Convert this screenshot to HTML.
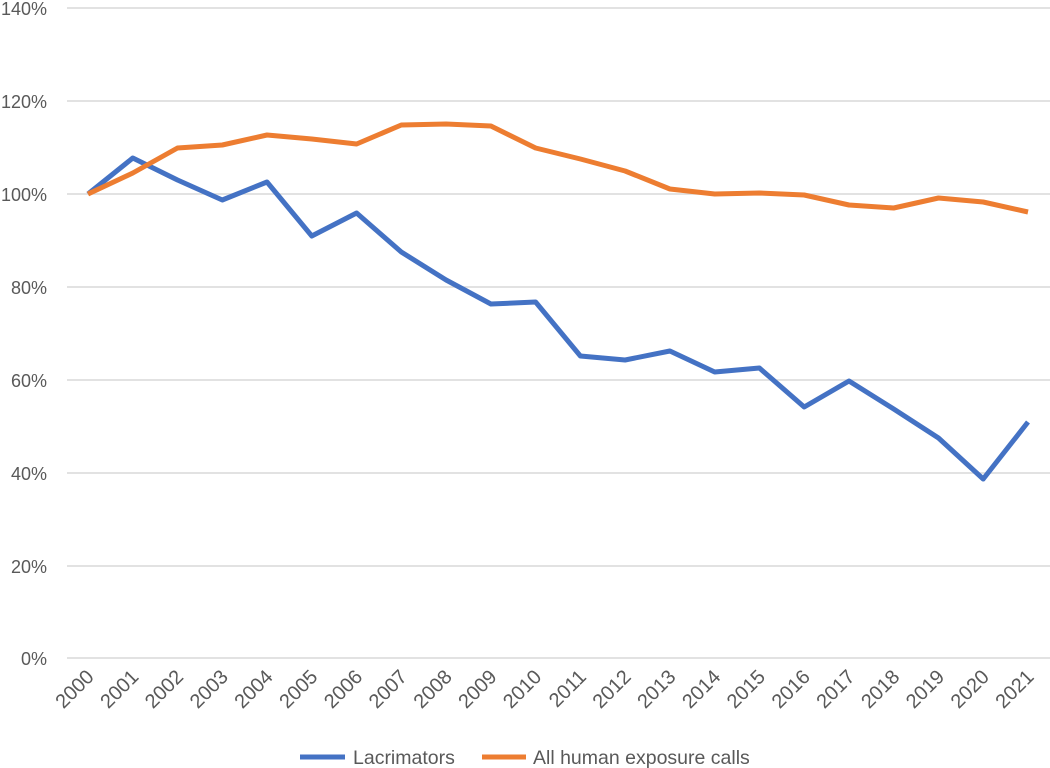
<!DOCTYPE html><html><head><style>body{margin:0;background:#fff}svg{display:block}text{font-family:"Liberation Sans",sans-serif;fill:#595959}</style></head><body>
<svg width="1050" height="768" viewBox="0 0 1050 768">
<g stroke="#d9d9d9" stroke-width="1.5">
<line x1="67" x2="1050" y1="8" y2="8"/><line x1="67" x2="1050" y1="101" y2="101"/><line x1="67" x2="1050" y1="194" y2="194"/><line x1="67" x2="1050" y1="287" y2="287"/><line x1="67" x2="1050" y1="380" y2="380"/><line x1="67" x2="1050" y1="473" y2="473"/><line x1="67" x2="1050" y1="566" y2="566"/><line x1="67" x2="1050" y1="658" y2="658"/></g>
<g font-size="18" text-anchor="end">
<text x="47" y="15">140%</text><text x="47" y="108">120%</text><text x="47" y="201">100%</text><text x="47" y="294">80%</text><text x="47" y="387">60%</text><text x="47" y="480">40%</text><text x="47" y="573">20%</text><text x="47" y="665">0%</text></g>
<polyline fill="none" stroke="#4472c4" stroke-width="5" stroke-linejoin="round" points="88,194 132.8,158 177.5,180 222.3,200 267,182 311.8,236 356.6,213 401.3,252 446.1,280 490.9,304 535.6,302 580.4,356 625.1,360 669.9,351 714.7,372 759.4,368 804.2,407 849,381 893.7,409 938.5,438 983.2,479 1028,422"/>
<polyline fill="none" stroke="#ed7d31" stroke-width="5" stroke-linejoin="round" points="88,194 132.8,173 177.5,148 222.3,145 267,135 311.8,139 356.6,144 401.3,125 446.1,124 490.9,126 535.6,148 580.4,159 625.1,171 669.9,189 714.7,194 759.4,193 804.2,195 849,205 893.7,208 938.5,198 983.2,202 1028,212"/>
<line x1="300" x2="345" y1="757" y2="757" stroke="#4472c4" stroke-width="5"/>
<text x="353" y="764" font-size="19.5">Lacrimators</text>
<line x1="482" x2="526" y1="757" y2="757" stroke="#ed7d31" stroke-width="5"/>
<text x="533" y="764" font-size="19.5">All human exposure calls</text>
<g font-size="20" text-anchor="end">
<text transform="translate(95,678) rotate(-45)">2000</text><text transform="translate(139.8,678) rotate(-45)">2001</text><text transform="translate(184.5,678) rotate(-45)">2002</text><text transform="translate(229.3,678) rotate(-45)">2003</text><text transform="translate(274,678) rotate(-45)">2004</text><text transform="translate(318.8,678) rotate(-45)">2005</text><text transform="translate(363.6,678) rotate(-45)">2006</text><text transform="translate(408.3,678) rotate(-45)">2007</text><text transform="translate(453.1,678) rotate(-45)">2008</text><text transform="translate(497.9,678) rotate(-45)">2009</text><text transform="translate(542.6,678) rotate(-45)">2010</text><text transform="translate(587.4,678) rotate(-45)">2011</text><text transform="translate(632.1,678) rotate(-45)">2012</text><text transform="translate(676.9,678) rotate(-45)">2013</text><text transform="translate(721.7,678) rotate(-45)">2014</text><text transform="translate(766.4,678) rotate(-45)">2015</text><text transform="translate(811.2,678) rotate(-45)">2016</text><text transform="translate(856,678) rotate(-45)">2017</text><text transform="translate(900.7,678) rotate(-45)">2018</text><text transform="translate(945.5,678) rotate(-45)">2019</text><text transform="translate(990.2,678) rotate(-45)">2020</text><text transform="translate(1035,678) rotate(-45)">2021</text></g>
</svg></body></html>
